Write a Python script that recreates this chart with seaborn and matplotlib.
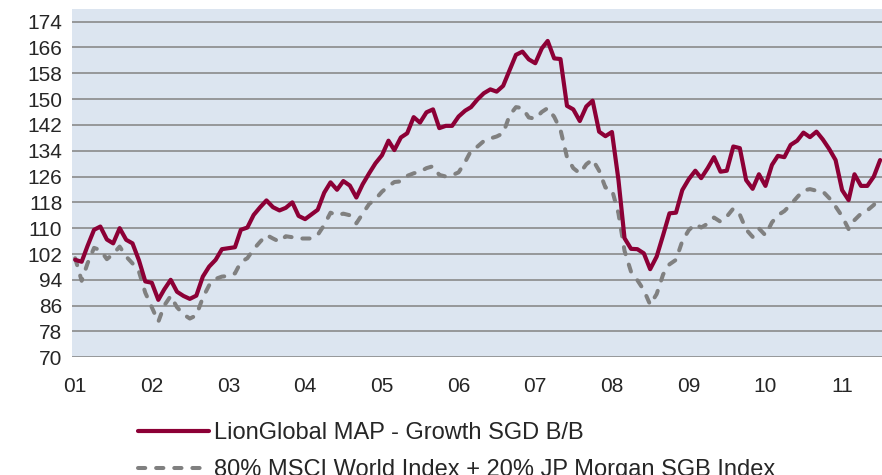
import numpy as np
import pandas as pd
import matplotlib
matplotlib.use("Agg")
import matplotlib.pyplot as plt
import seaborn as sns

# Monthly index values, Jan 2001 - Jul 2011 (rebased to 100)
fund = [100.2, 99.6, 104.5, 109.5, 110.5, 106.5, 105.3, 110.0, 106.4, 105.3,
        100.0, 93.5, 93.1, 87.8, 91.0, 94.0, 90.3, 89.0, 88.1, 89.1,
        95.0, 98.1, 100.2, 103.5, 103.8, 104.1, 109.5, 110.2, 114.1, 116.5,
        118.6, 116.5, 115.5, 116.3, 118.0, 113.8, 112.8, 114.3, 115.7, 121.0,
        124.2, 121.9, 124.6, 123.2, 119.5, 123.6, 127.0, 130.1, 132.6, 137.1,
        134.2, 138.1, 139.4, 144.4, 142.7, 145.9, 146.8, 141.0, 141.7, 141.7,
        144.6, 146.4, 147.5, 149.9, 151.8, 153.0, 152.3, 154.1, 159.0, 163.7,
        164.7, 162.3, 161.1, 165.7, 168.0, 162.6, 162.4, 147.9, 146.8, 143.2,
        147.7, 149.5, 139.9, 138.5, 139.8, 125.0, 106.9, 103.6, 103.5, 102.2,
        97.3, 101.2, 107.9, 114.6, 114.8, 121.8, 125.2, 127.8, 125.5, 128.6,
        132.0, 127.5, 127.8, 135.3, 134.8, 124.9, 122.2, 126.7, 123.1, 129.6,
        132.4, 132.0, 135.8, 137.1, 139.6, 138.2, 139.9, 137.5, 134.5, 131.1,
        121.8, 118.7, 126.7, 123.1, 123.1, 126.0, 131.1]

benchmark = [100.7, 93.7, 99.1, 103.9, 103.2, 100.4, 102.0, 104.3, 101.2, 99.1,
             96.5, 90.0, 85.5, 81.0, 86.0, 89.0, 85.5, 83.3, 82.0, 83.0,
             88.5, 92.3, 94.3, 95.0, 95.2, 96.0, 99.5, 100.7, 103.5, 105.8,
             107.9, 106.8, 105.8, 107.5, 107.2, 106.8, 106.8, 106.8, 107.9, 111.0,
             114.8, 114.0, 114.5, 114.0, 111.5, 114.5, 117.5, 119.0, 121.3, 123.0,
             124.3, 124.5, 126.2, 127.0, 127.5, 128.6, 129.2, 126.5, 126.0, 126.4,
             127.3, 130.5, 134.0, 135.3, 137.0, 137.8, 138.4, 139.4, 145.0, 147.5,
             147.2, 144.3, 143.9, 146.0, 147.2, 144.5, 140.5, 132.0, 128.6, 127.0,
             129.8, 131.3, 127.8, 122.6, 122.0, 114.6, 103.0, 96.5, 93.9, 90.8,
             86.3, 89.6, 95.7, 98.8, 100.2, 106.0, 109.4, 111.3, 110.2, 111.4,
             113.3, 112.0, 113.6, 116.1, 114.2, 109.6, 107.3, 109.9, 107.8, 111.8,
             114.0, 115.3, 117.3, 119.6, 121.7, 122.1, 121.6, 121.4, 119.3, 116.7,
             113.7, 109.7, 112.5, 114.5, 115.5, 117.2, 119.8]

fund_name = "LionGlobal MAP - Growth SGD B/B"
bench_name = "80% MSCI World Index + 20% JP Morgan SGB Index"
year_labels = ["01", "02", "03", "04", "05", "06", "07", "08", "09", "10", "11"]
y_ticks = list(range(70, 175, 8))

RED = "#8C0036"
GREY = "#808080"
GRID = "#8A8A8A"
BG = "#DCE5F0"

sns.set_theme(style="white")
plt.rcParams["font.family"] = ["Liberation Sans", "DejaVu Sans"]

df = pd.DataFrame({
    "month": pd.date_range("2001-01-01", periods=len(fund), freq="MS"),
    "fund": fund,
    "bench": benchmark,
})

fig = plt.figure(figsize=(8.82, 4.75), dpi=100)
ax = fig.add_axes([72 / 882, 1 - 357.3 / 475, 810 / 882, 348.3 / 475])
ax.set_facecolor(BG)

for y in y_ticks:
    ax.axhline(y, color=GRID, lw=1.2, zorder=1)

sns.lineplot(data=df, x="month", y="bench", ax=ax, color=GREY, lw=2.9,
             linestyle=(0, (1.8, 2.7)), dash_capstyle="round",
             label=bench_name, zorder=3)
sns.lineplot(data=df, x="month", y="fund", ax=ax, color=RED, lw=3.0,
             label=fund_name, zorder=4)

ax.set_ylim(70, 70 + 348.3 / 3.228)
ax.set_xlim(pd.Timestamp("2000-12-17"), pd.Timestamp("2011-07-10"))
ax.set_yticks(y_ticks)
ax.set_yticklabels([str(v) for v in y_ticks], fontsize=15)
year_pos = [pd.Timestamp(f"20{lab}-01-01") for lab in year_labels]
ax.set_xticks(year_pos)
ax.set_xticklabels(year_labels, fontsize=15)
ax.tick_params(axis="y", length=0, pad=7)
ax.tick_params(axis="x", length=0, pad=14)
ax.set_xlabel("")
ax.set_ylabel("")
for s in ax.spines.values():
    s.set_visible(False)

# legend below the plot, fund first
handles, labels = ax.get_legend_handles_labels()
ax.legend_.remove()
fig.legend(handles[::-1], labels[::-1], loc="upper left",
           bbox_to_anchor=(138 / 882, 1 - 422 / 475), frameon=False,
           fontsize=17, handlelength=3.0, handletextpad=0.2,
           labelspacing=0.65, borderpad=0, borderaxespad=0)

fig.savefig("out.png", dpi=100)
